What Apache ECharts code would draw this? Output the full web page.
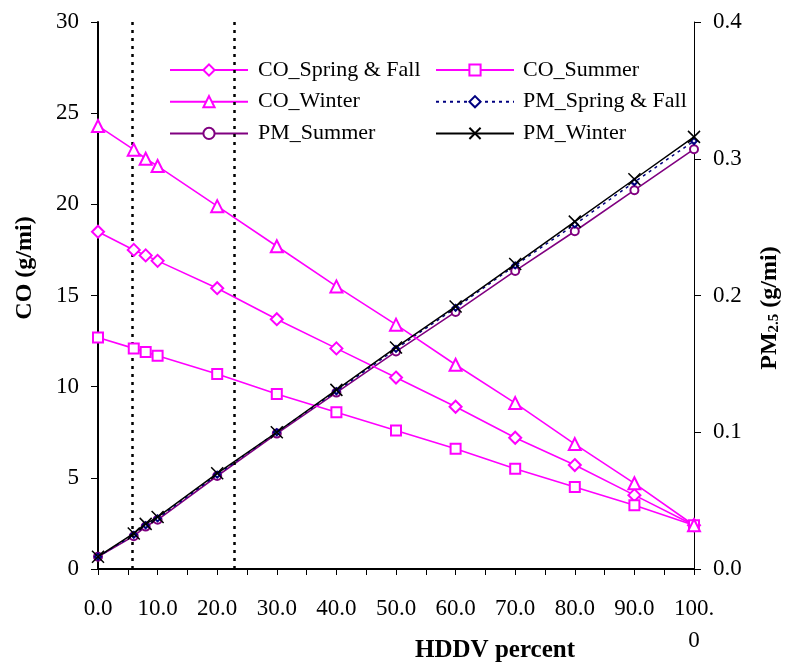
<!DOCTYPE html>
<html><head><meta charset="utf-8">
<script src="https://cdn.jsdelivr.net/npm/echarts@6/dist/echarts.min.js"></script>
<style>html,body{margin:0;padding:0;background:#fff}#c{width:785px;height:665px}</style>
</head><body><div id="c"></div>
<script>
const hddv = [0, 6, 8, 10, 20, 30, 40, 50, 60, 70, 80, 90, 100];
const coSpringFall = [18.5, 17.5, 17.2, 16.9, 15.4, 13.7, 12.1, 10.5, 8.9, 7.2, 5.7, 4.05, 2.4];
const coSummer = [12.7, 12.1, 11.9, 11.7, 10.7, 9.6, 8.6, 7.6, 6.6, 5.5, 4.5, 3.5, 2.4];
const coWinter = [24.3, 23.0, 22.5, 22.1, 19.9, 17.7, 15.5, 13.4, 11.2, 9.1, 6.85, 4.7, 2.4];
const pmSpringFall = [0.009, 0.025, 0.032, 0.037, 0.069, 0.100, 0.130, 0.161, 0.191, 0.222, 0.252, 0.283, 0.313];
const pmSummer = [0.009, 0.024, 0.031, 0.036, 0.068, 0.099, 0.129, 0.159, 0.188, 0.218, 0.247, 0.277, 0.307];
const pmWinter = [0.009, 0.026, 0.033, 0.038, 0.070, 0.100, 0.131, 0.162, 0.192, 0.223, 0.254, 0.285, 0.316];
const dottedLines = [5.8, 22.9];
const xName = 'HDDV percent';
const yLeftName = 'CO (g/mi)';
const yRightName = '{a|PM}{b|2.5}{a| (g/mi)}';

const pairs = v => hddv.map((x, i) => [x, v[i]]);
const FONT = '"Liberation Serif", "Times New Roman", serif';
const MAG = '#FF00FF';

const chart = echarts.init(document.getElementById('c'), null, {renderer: 'canvas'});
const legendText = {fontFamily: FONT, fontSize: 22, lineHeight: 22, color: '#000'};
const option = {
  backgroundColor: '#fff',
  animation: false,
  grid: {left: 98, right: 91, top: 22, bottom: 96},
  legend: [
    {orient: 'vertical', left: 164, top: 54, itemWidth: 78, itemHeight: 14, itemGap: 9.7,
     textStyle: Object.assign({padding: [0, 0, 0, 5]}, legendText),
     data: ['CO_Spring & Fall', 'CO_Winter', 'PM_Summer']},
    {orient: 'vertical', left: 430, top: 54, itemWidth: 78, itemHeight: 14, itemGap: 9.7,
     textStyle: Object.assign({padding: [0, 0, 0, 4]}, legendText),
     data: ['CO_Summer', 'PM_Spring & Fall', 'PM_Winter']}
  ],
  xAxis: {
    type: 'value', min: 0, max: 100, interval: 10,
    axisLine: {show: true, lineStyle: {color: '#000', width: 2}},
    axisTick: {show: true, length: 6, lineStyle: {color: '#000'}},
    minorTick: {show: true, splitNumber: 2, length: 6, lineStyle: {color: '#000'}},
    splitLine: {show: false},
    axisLabel: {fontFamily: FONT, fontSize: 23, color: '#000', margin: 24, lineHeight: 32,
      formatter: v => v === 100 ? '100.\n0' : v.toFixed(1)}
  },
  yAxis: [
    {type: 'value', min: 0, max: 30, interval: 5, position: 'left',
     axisLine: {show: true, lineStyle: {color: '#000', width: 2}},
     axisTick: {show: true, length: 7, lineStyle: {color: '#000'}},
     splitLine: {show: false},
     axisLabel: {fontFamily: FONT, fontSize: 23, color: '#000', margin: 19}},
    {type: 'value', min: 0, max: 0.4, interval: 0.1, position: 'right',
     axisLine: {show: true, lineStyle: {color: '#000', width: 1}},
     axisTick: {show: true, length: 7, lineStyle: {color: '#000'}},
     splitLine: {show: false},
     axisLabel: {fontFamily: FONT, fontSize: 23, color: '#000', margin: 19, formatter: v => v.toFixed(1)}}
  ],
  graphic: [
    {type: 'text', x: 495, y: 651,
     style: {text: xName, fontFamily: FONT, fontSize: 25, fontWeight: 'bold', fill: '#000',
             align: 'center', verticalAlign: 'middle'}},
    {type: 'text', x: 25, y: 268, rotation: Math.PI / 2,
     style: {text: yLeftName, fontFamily: FONT, fontSize: 24, fontWeight: 'bold', fill: '#000',
             align: 'center', verticalAlign: 'middle'}},
    {type: 'text', x: 770, y: 308, rotation: Math.PI / 2,
     style: {text: yRightName, fontFamily: FONT, fontSize: 24, fontWeight: 'bold', fill: '#000',
             align: 'center', verticalAlign: 'middle',
             rich: {a: {fontFamily: FONT, fontSize: 24, fontWeight: 'bold', fill: '#000'},
                    b: {fontFamily: FONT, fontSize: 15, fontWeight: 'bold', fill: '#000', padding: [8, 0, 0, 0]}}}}
  ],
  series: [
    {name: 'CO_Spring & Fall', type: 'line', yAxisIndex: 0, data: pairs(coSpringFall),
     symbol: 'emptyDiamond', symbolSize: 12, z: 5,
     lineStyle: {color: MAG, width: 1.6}, itemStyle: {color: MAG, borderWidth: 1.6},
     markLine: {silent: true, symbol: 'none', label: {show: false},
       lineStyle: {color: '#000', type: [3, 5], width: 2.5},
       data: dottedLines.map(x => ({xAxis: x}))}},
    {name: 'CO_Summer', type: 'line', yAxisIndex: 0, data: pairs(coSummer),
     symbol: 'emptyRect', symbolSize: 10, z: 5,
     lineStyle: {color: MAG, width: 1.6}, itemStyle: {color: MAG, borderWidth: 1.6}},
    {name: 'CO_Winter', type: 'line', yAxisIndex: 0, data: pairs(coWinter),
     symbol: 'emptyTriangle', symbolSize: 12, z: 5,
     lineStyle: {color: MAG, width: 1.6}, itemStyle: {color: MAG, borderWidth: 1.6}},
    {name: 'PM_Spring & Fall', type: 'line', yAxisIndex: 1, data: pairs(pmSpringFall),
     symbol: 'emptyDiamond', symbolSize: 6, z: 4,
     lineStyle: {color: '#000080', width: 1.5, type: [3, 4]}, itemStyle: {color: '#000080', borderWidth: 1.2}},
    {name: 'PM_Summer', type: 'line', yAxisIndex: 1, data: pairs(pmSummer),
     symbol: 'emptyCircle', symbolSize: 8, z: 3,
     lineStyle: {color: '#800080', width: 1.6}, itemStyle: {color: '#800080', borderWidth: 1.5}},
    {name: 'PM_Winter', type: 'line', yAxisIndex: 1, data: pairs(pmWinter),
     symbol: 'path://M0,0L10,10M10,0L0,10', symbolSize: 12, z: 6,
     lineStyle: {color: '#000', width: 1.5}, itemStyle: {color: '#000', borderColor: '#000', borderWidth: 1.5}}
  ]
};
chart.setOption(option);
</script></body></html>
